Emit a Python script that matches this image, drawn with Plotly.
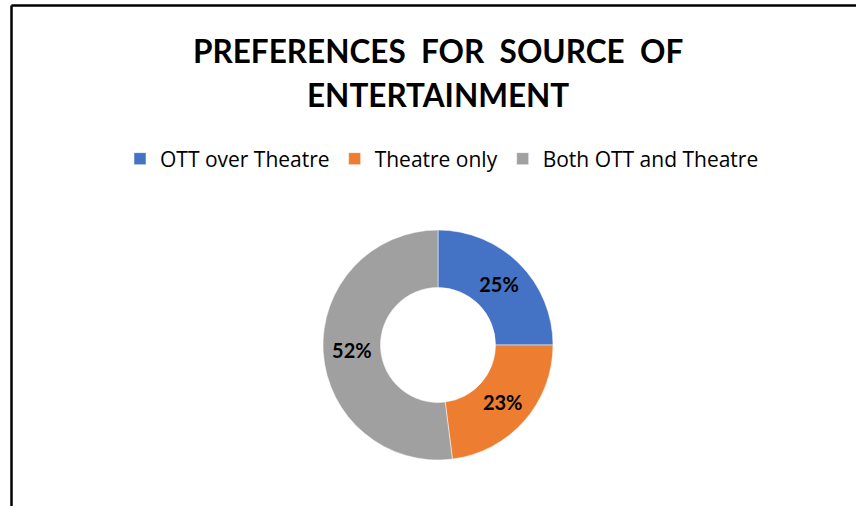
import plotly.graph_objects as go

W, H = 856, 506
categories = ["OTT over Theatre", "Theatre only", "Both OTT and Theatre"]
values = [25, 23, 52]
colors = ["#4472C4", "#ED7D31", "#A0A0A0"]
title_lines = ["PREFERENCES  FOR  SOURCE  OF", "ENTERTAINMENT"]

cx, cy, R = 438, 345, 115

fig = go.Figure(go.Pie(
    labels=categories, values=values, hole=0.5, sort=False,
    direction="clockwise", rotation=0,
    marker=dict(colors=colors, line=dict(color="white", width=0.5)),
    texttemplate="%{percent:.0%}", textposition="inside",
    insidetextfont=dict(family="Lato", size=20, color="black", weight="bold"),
    insidetextorientation="horizontal",
    domain=dict(x=[(cx - R) / W, (cx + R) / W], y=[1 - (cy + R) / H, 1 - (cy - R) / H]),
    hoverinfo="label+percent",
))

for line, ypx in zip(title_lines, [51, 95]):
    fig.add_annotation(text=line, x=438 / W, y=1 - ypx / H, xref="paper", yref="paper",
                       showarrow=False, font=dict(family="Lato", size=31.5, color="black", weight="bold"),
                       xanchor="center", yanchor="middle")

fig.add_shape(type="line", xref="paper", yref="paper", x0=11.5 / W, x1=1.0, y0=1 - 5.5 / H, y1=1 - 5.5 / H,
              line=dict(color="black", width=2.5))
fig.add_shape(type="line", xref="paper", yref="paper", x0=11.5 / W, x1=11.5 / W, y0=0, y1=1 - 5.5 / H,
              line=dict(color="black", width=2.5))

fig.update_layout(
    width=W, height=H, margin=dict(l=0, r=0, t=0, b=0),
    paper_bgcolor="white", plot_bgcolor="white",
    showlegend=True,
    legend=dict(orientation="h", x=442 / W, xanchor="center", y=1 - 159 / H, yanchor="middle",
                font=dict(family="Open Sans", size=21, color="black"), itemwidth=30,
                traceorder="normal"),
)

fig.write_html("out.html")
